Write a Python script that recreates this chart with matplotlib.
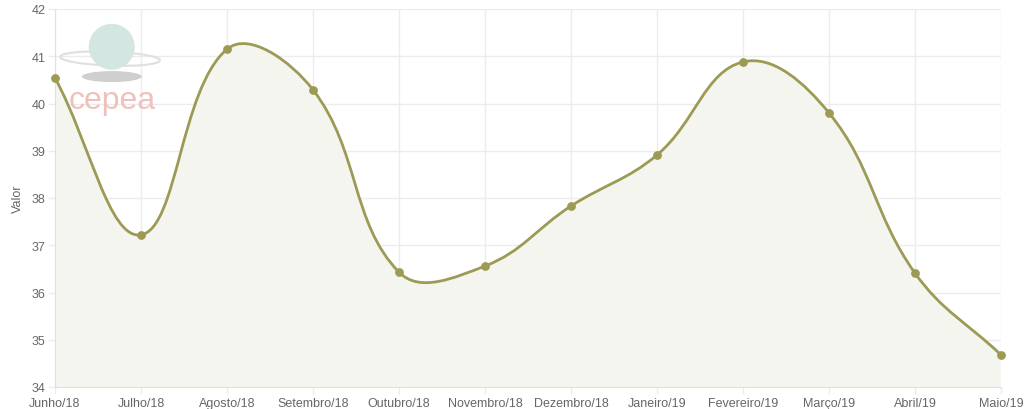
import numpy as np
import matplotlib
matplotlib.use('Agg')
import matplotlib.pyplot as plt
from matplotlib.path import Path
from matplotlib.patches import PathPatch, Ellipse

months = ['Junho/18', 'Julho/18', 'Agosto/18', 'Setembro/18', 'Outubro/18',
          'Novembro/18', 'Dezembro/18', 'Janeiro/19', 'Fevereiro/19',
          'Março/19', 'Abril/19', 'Maio/19']
valor = [40.54, 37.22, 41.15, 40.29, 36.43, 36.56, 37.83, 38.91, 40.88,
         39.80, 36.41, 34.68]
yticks = [34, 35, 36, 37, 38, 39, 40, 41, 42]

LINE = '#9c9a55'
FILL = '#f5f5f0'
GRID = '#ececec'
TXT = '#666666'


def spline_path(x, y, sx, sy, tension=0.4):
    # Chart.js style bezier: control points computed in pixel space
    px = np.asarray(x, float) * sx
    py = np.asarray(y, float) * sy
    n = len(px)
    verts = [(px[0], py[0])]
    codes = [Path.MOVETO]
    cps = []
    for i in range(n):
        p0 = (px[max(i - 1, 0)], py[max(i - 1, 0)])
        p1 = (px[i], py[i])
        p2 = (px[min(i + 1, n - 1)], py[min(i + 1, n - 1)])
        d01 = np.hypot(p1[0] - p0[0], p1[1] - p0[1])
        d12 = np.hypot(p2[0] - p1[0], p2[1] - p1[1])
        s01 = d01 / (d01 + d12) if d01 + d12 else 0
        s12 = d12 / (d01 + d12) if d01 + d12 else 0
        fa, fb = tension * s01, tension * s12
        prev = (p1[0] - fa * (p2[0] - p0[0]), p1[1] - fa * (p2[1] - p0[1]))
        nxt = (p1[0] + fb * (p2[0] - p0[0]), p1[1] + fb * (p2[1] - p0[1]))
        cps.append((prev, nxt))
    for i in range(1, n):
        verts += [cps[i - 1][1], cps[i][0], (px[i], py[i])]
        codes += [Path.CURVE4] * 3
    verts = [(vx / sx, vy / sy) for vx, vy in verts]
    return verts, codes


plt.rcParams['font.family'] = ['Liberation Sans', 'DejaVu Sans']
fig = plt.figure(figsize=(10.24, 4.10), dpi=100)
ax = fig.add_axes([55 / 1024, 22 / 410, 946 / 1024, 378 / 410])

x = np.arange(len(months))
sx = 946 / (len(months) - 1)
sy = 378 / 8.0
verts, codes = spline_path(x, valor, sx, sy)

fill_verts = verts + [(x[-1], 34), (x[0], 34), verts[0]]
fill_codes = codes + [Path.LINETO, Path.LINETO, Path.CLOSEPOLY]
ax.add_patch(PathPatch(Path(fill_verts, fill_codes), facecolor=FILL,
                       edgecolor='none', zorder=1))
ax.add_patch(PathPatch(Path(verts, codes), facecolor='none', edgecolor=LINE,
                       lw=2, zorder=3))
ax.scatter(x, valor, s=28, color=LINE, zorder=4, clip_on=False)

ax.set_xlim(0, len(months) - 1)
ax.set_ylim(34, 42)
ax.set_xticks(x)
ax.set_xticklabels(months)
ax.set_yticks(yticks)
ax.set_yticklabels([str(t) for t in yticks])
ax.grid(True, color=GRID, lw=1, zorder=0)
ax.set_axisbelow(True)
ax.tick_params(colors=GRID, labelcolor=TXT, labelsize=9, length=5, width=1,
               pad=2)
for s in ['top', 'right']:
    ax.spines[s].set_visible(False)
for s in ['left', 'bottom']:
    ax.spines[s].set_color('#e0e0e0')
ax.set_ylabel('Valor', color=TXT, fontsize=9, labelpad=5)

# faint CEPEA watermark (pixel sizes converted to data units)
ax.add_patch(Ellipse((0.64, 40.95), 100 / sx, 14 / sy, angle=-4,
                     facecolor='none', edgecolor='#dde0e0', lw=1.5, zorder=2))
ax.add_patch(Ellipse((0.66, 41.2), 46 / sx, 46 / sy, facecolor='#d4e6e1',
                     edgecolor='none', zorder=2))
ax.add_patch(Ellipse((0.66, 40.57), 60 / sx, 11 / sy, facecolor='#cfcfcf',
                     edgecolor='none', zorder=2))
ax.text(0.66, 40.07, 'cepea', color='#f0c0bc', fontsize=23, ha='center',
        va='center', zorder=2)

fig.savefig('out.png', dpi=100)
